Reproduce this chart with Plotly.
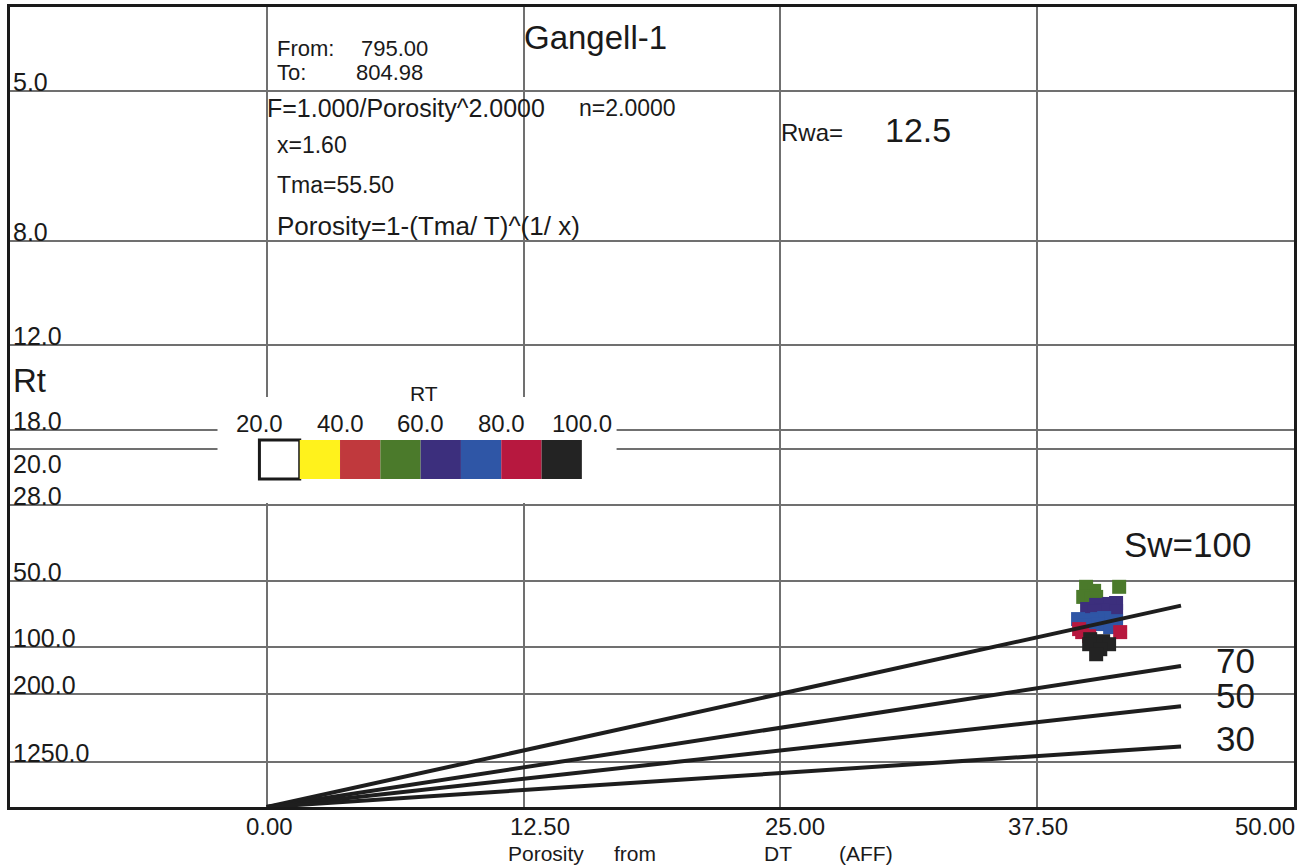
import numpy as np
import plotly.graph_objects as go

# ---------------- data ----------------
well = "Gangell-1"
depth_from = "795.00"
depth_to = "804.98"
a_const, m_exp, n_exp = 1.0, 2.0, 2.0
rwa = 12.5

rt_tick_values = [5.0, 8.0, 12.0, 18.0, 20.0, 28.0, 50.0, 100.0, 200.0, 1250.0]
rt_tick_labels = ["5.0", "8.0", "12.0", "18.0", "20.0", "28.0", "50.0", "100.0", "200.0", "1250.0"]
x_tick_values = [0.0, 12.5, 25.0, 37.5, 50.0]
x_tick_labels = ["0.00", "12.50", "25.00", "37.50", "50.00"]

sw_lines = [100, 70, 50, 30]
sw_line_end_porosity = 44.5

# sample points: porosity (%) and Rt (ohm.m)
porosity = [39.88, 41.49, 39.74, 40.37, 40.13, 40.27,
            39.93, 40.66, 41.34, 41.34, 40.37, 41.00, 40.27,
            39.49, 40.13, 40.76, 41.34, 39.79, 40.42, 41.05, 40.42,
            39.69, 41.54, 40.03, 39.54,
            40.08, 40.71, 40.57, 40.03, 41.00, 40.37]
rt = [52.8, 52.8, 58.0, 58.0, 59.1, 54.8,
      65.3, 66.0, 61.5, 66.7, 62.7, 62.1, 66.7,
      72.5, 73.3, 71.7, 74.1, 77.4, 76.5, 79.1, 72.5,
      83.7, 83.7, 87.7, 80.9,
      90.9, 93.1, 102.8, 96.6, 96.6, 109.7]

rt_bin_edges = [20, 30, 40, 50, 60, 70, 80, 90, 100]
rt_bin_colors = ["#ffffff", "#fff21c", "#c0393d", "#4b7a2b", "#3c2f7d",
                 "#2f56a6", "#b7183f", "#232323"]
legend_labels = ["20.0", "40.0", "60.0", "80.0", "100.0"]

# ---------------- figure ----------------
def ry(v):
    return v ** (-1.0 / m_exp)

def color_for(v):
    idx = int(np.searchsorted(rt_bin_edges, v, side="right")) - 1
    idx = max(0, min(idx, len(rt_bin_colors) - 1))
    return rt_bin_colors[idx]

fig = go.Figure()

order = np.argsort(rt)
px_ = [porosity[i] for i in order]
rt_ = [rt[i] for i in order]
fig.add_trace(go.Scatter(
    x=px_, y=[ry(v) for v in rt_], mode="markers",
    marker=dict(symbol="square", size=14, color=[color_for(v) for v in rt_],
                line=dict(width=0)),
    showlegend=False, hoverinfo="skip"))

for sw in sw_lines:
    xe = sw_line_end_porosity
    ye = (xe / 100.0) * (sw / 100.0) ** (n_exp / m_exp) / np.sqrt(a_const * rwa)
    fig.add_trace(go.Scatter(x=[0, xe], y=[0, ye], mode="lines",
                             line=dict(color="#1e1e1e", width=4),
                             showlegend=False, hoverinfo="skip"))

grid_col = "#707070"
fig.update_layout(
    width=1300, height=867,
    margin=dict(l=10, r=3, t=7, b=60),
    paper_bgcolor="white", plot_bgcolor="white",
    xaxis=dict(range=[-12.5, 50], tickvals=x_tick_values[:-1],
               showticklabels=False, ticks="",
               showgrid=True, gridcolor=grid_col, gridwidth=2, zeroline=False,
               showline=True, linecolor="#1a1a1a", linewidth=3, mirror=True),
    yaxis=dict(range=[0, 0.5], tickvals=[ry(v) for v in rt_tick_values],
               showticklabels=False, ticks="",
               showgrid=True, gridcolor=grid_col, gridwidth=2, zeroline=False,
               showline=True, linecolor="#1a1a1a", linewidth=3, mirror=True),
    font=dict(family="Liberation Sans, Arial, sans-serif", color="#1a1a1a"),
)

def px2paper_x(p):
    return (p - 10) / 1287.0

def py2paper_y(p):
    return (807 - p) / 800.0

# white panel behind legend (interrupts grid lines)
fig.add_shape(type="rect", xref="paper", yref="paper",
              x0=px2paper_x(218), x1=px2paper_x(618),
              y0=py2paper_y(503), y1=py2paper_y(397),
              fillcolor="white", line=dict(width=0), layer="above")

# colour legend boxes
bx0, bw = 260, 40.4
for i, c in enumerate(rt_bin_colors):
    fig.add_shape(type="rect", xref="paper", yref="paper",
                  x0=px2paper_x(bx0 + i * bw), x1=px2paper_x(bx0 + (i + 1) * bw),
                  y0=py2paper_y(479), y1=py2paper_y(440),
                  fillcolor=c,
                  line=dict(width=3 if i == 0 else 0, color="#1a1a1a"),
                  layer="above")
for j, lab in enumerate(legend_labels):
    fig.add_annotation(xref="paper", yref="paper",
                       x=px2paper_x(bx0 + j * 2 * bw), y=py2paper_y(423),
                       text=lab, showarrow=False, xanchor="center", yanchor="middle",
                       font=dict(size=24, color="#1a1a1a"))
fig.add_annotation(xref="paper", yref="paper", x=px2paper_x(425), y=py2paper_y(393),
                   text="RT", showarrow=False, xanchor="center", yanchor="middle",
                   font=dict(size=21, color="#1a1a1a"))

# y labels (Rt)
for v, lab in zip(rt_tick_values, rt_tick_labels):
    top = lab == "20.0"
    fig.add_annotation(xref="paper", yref="y", x=0.0005, y=ry(v), text=lab,
                       showarrow=False, xanchor="left",
                       yanchor="top" if top else "bottom",
                       yshift=1 if top else -7,
                       font=dict(size=25, color="#1a1a1a"))
fig.add_annotation(xref="paper", yref="paper", x=0.0005, y=py2paper_y(380), text="Rt",
                   showarrow=False, xanchor="left", yanchor="middle",
                   font=dict(size=33, color="#1a1a1a"))

# x tick labels (as printed, slightly offset from their grid lines)
for lab, cx in zip(x_tick_labels, [270, 541, 797, 1040, 1268]):
    fig.add_annotation(xref="paper", yref="paper", x=px2paper_x(cx), y=py2paper_y(826),
                       text=lab, showarrow=False, xanchor="center", yanchor="middle",
                       font=dict(size=24, color="#1a1a1a"))
for word, cx in [("Porosity", 547), ("from", 636), ("DT", 780), ("(AFF)", 868)]:
    fig.add_annotation(xref="paper", yref="paper", x=px2paper_x(cx), y=py2paper_y(853),
                       text=word, showarrow=False, xanchor="center", yanchor="middle",
                       font=dict(size=21, color="#1a1a1a"))

# header texts
def txt(s, x, y, size, anchor="left"):
    fig.add_annotation(xref="paper", yref="paper", x=px2paper_x(x), y=py2paper_y(y),
                       text=s, showarrow=False, xanchor=anchor, yanchor="middle",
                       font=dict(size=size, color="#1a1a1a"))

txt(well, 523, 38, 33)
txt("From:", 276, 48, 22)
txt(depth_from, 360, 48, 22)
txt("To:", 276, 72, 22)
txt(depth_to, 355, 72, 22)
txt("F=%.3f/Porosity^%.4f" % (a_const, m_exp), 266, 108, 25)
txt("n=%.4f" % n_exp, 578, 108, 23)
txt("x=1.60", 276, 145, 23)
txt("Tma=55.50", 276, 185, 23)
txt("Porosity=1-(Tma/ T)^(1/ x)", 276, 226, 26)
txt("Rwa=", 781, 133, 24)
txt("%.1f" % rwa, 885, 130, 34)
txt("Sw=%d" % sw_lines[0], 1125, 544, 35)
for sw, yy in zip(sw_lines[1:], [660, 695, 738]):
    txt(str(sw), 1217, yy, 35)

fig.write_html("out.html", config={"displayModeBar": False},
               post_script="document.body.style.margin='0';document.body.style.overflow='hidden';")
